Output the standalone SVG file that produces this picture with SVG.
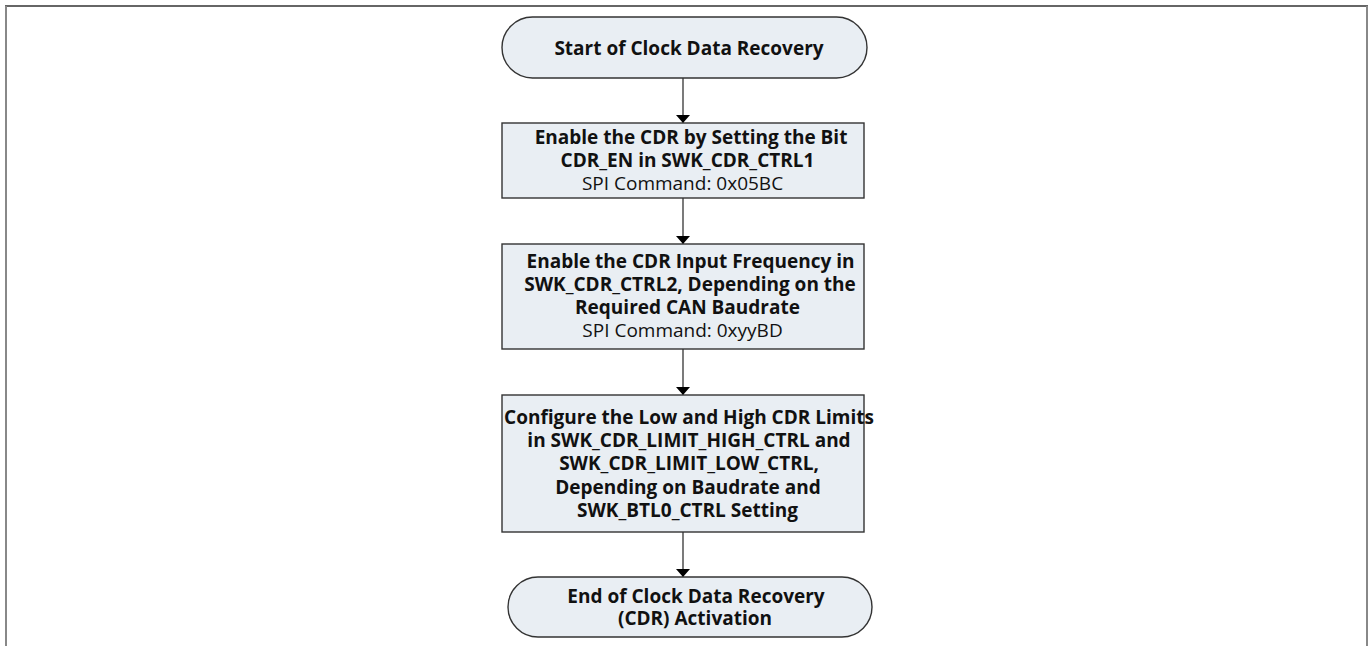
<svg xmlns="http://www.w3.org/2000/svg" width="1370" height="646" viewBox="0 0 1370 646">
<defs>
<marker id="ah" viewBox="0 0 8 14" refX="8" refY="7" markerWidth="8" markerHeight="14" markerUnits="userSpaceOnUse" orient="auto">
<path d="M0,0 L8,7 L0,14 Z" fill="#000"/>
</marker>
</defs>
<style>
.node{fill:#E9EEF3;stroke:#333;stroke-width:1.4}
.t{font-family:"Open Sans","Noto Sans","DejaVu Sans",sans-serif;font-size:19px;fill:#111;text-anchor:middle}
.b{font-weight:bold}
.c{stroke:#222;stroke-width:1.2;fill:none;marker-end:url(#ah)}
</style>
<rect width="1370" height="646" fill="#fff"/>
<g id="frame">
<line x1="5" y1="6" x2="1368" y2="6" stroke="#333" stroke-width="1.5"/>
<line x1="6" y1="6" x2="6" y2="646" stroke="#888" stroke-width="2"/>
<line x1="1367" y1="6" x2="1367" y2="646" stroke="#888" stroke-width="2"/>
</g>
<g id="connectors">
<line class="c" x1="683" y1="78" x2="683" y2="123"/>
<line class="c" x1="683" y1="198" x2="683" y2="244"/>
<line class="c" x1="683" y1="349" x2="683" y2="395"/>
<line class="c" x1="683" y1="532" x2="683" y2="577"/>
</g>
<g id="start">
<rect class="node" x="502" y="17" width="365" height="61" rx="30.5"/>
<text class="t b" x="689" y="55">Start of Clock Data Recovery</text>
</g>
<g id="step1">
<rect class="node" x="502" y="123" width="362" height="75"/>
<text class="t b" x="691" y="144">Enable the CDR by Setting the Bit</text>
<text class="t b" x="687.5" y="167">CDR_EN in SWK_CDR_CTRL1</text>
<text class="t" x="682.5" y="190">SPI Command: 0x05BC</text>
</g>
<g id="step2">
<rect class="node" x="502" y="244" width="362" height="105"/>
<text class="t b" x="690.5" y="268">Enable the CDR Input Frequency in</text>
<text class="t b" x="690" y="291">SWK_CDR_CTRL2, Depending on the</text>
<text class="t b" x="687.5" y="314">Required CAN Baudrate</text>
<text class="t" x="682.5" y="337">SPI Command: 0xyyBD</text>
</g>
<g id="step3">
<rect class="node" x="502" y="395" width="362" height="137"/>
<text class="t b" x="689" y="423.5">Configure the Low and High CDR Limits</text>
<text class="t b" x="689" y="447">in SWK_CDR_LIMIT_HIGH_CTRL and</text>
<text class="t b" x="689" y="470">SWK_CDR_LIMIT_LOW_CTRL,</text>
<text class="t b" x="688" y="493.5">Depending on Baudrate and</text>
<text class="t b" x="687.5" y="517">SWK_BTL0_CTRL Setting</text>
</g>
<g id="end">
<rect class="node" x="508" y="577" width="364" height="60" rx="30"/>
<text class="t b" x="696" y="603">End of Clock Data Recovery</text>
<text class="t b" x="695" y="625">(CDR) Activation</text>
</g>
</svg>
